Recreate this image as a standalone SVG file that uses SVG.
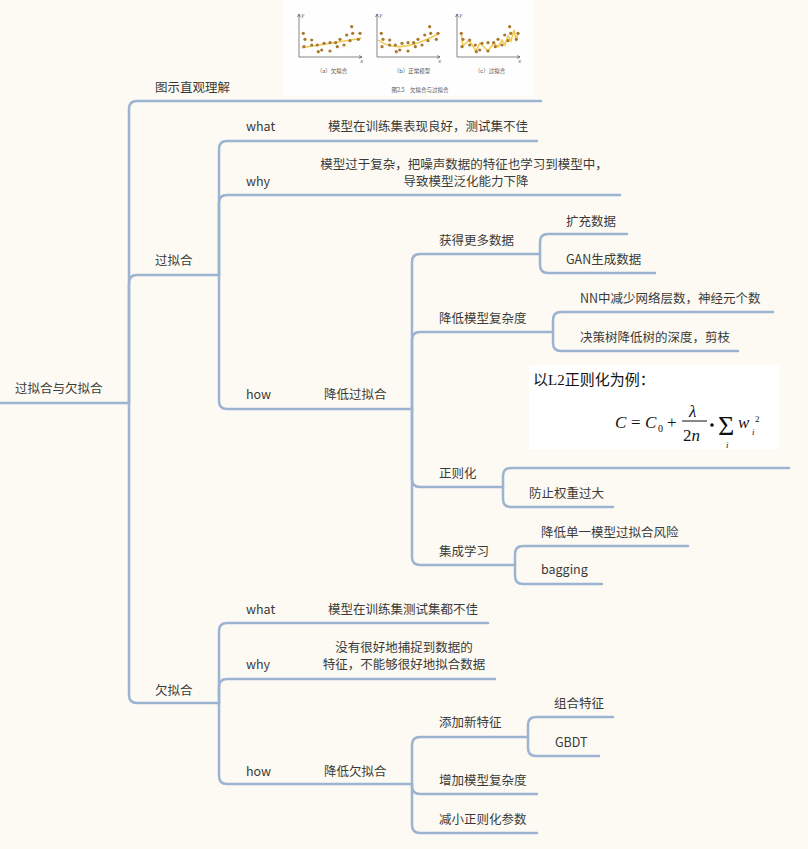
<svg xmlns="http://www.w3.org/2000/svg" xmlns:xlink="http://www.w3.org/1999/xlink" width="808" height="849" viewBox="0 0 808 849">
<style>
  .t{font-family:"Noto Sans CJK SC","Noto Sans",sans-serif;font-size:12.5px;fill:#3a3a3a}
  .c{fill:none;stroke:#9cb3d1;stroke-width:2.5;stroke-linecap:round}
  .ax{fill:none;stroke:#555;stroke-width:0.7}
  .sm{font-family:"Noto Sans CJK SC",sans-serif;font-size:5.5px;fill:#555}
  .dot{fill:#a8782e}
  .fit{fill:none;stroke:#f0cb52;stroke-width:1.6}
  .m{font-family:"Liberation Serif",serif;font-style:italic;fill:#111}
  .mn{font-family:"Liberation Serif",serif;fill:#111}
</style>
<defs>
  <g id="dots">
    <circle class="dot" cx="303.3" cy="33.3" r="1.6"/><circle class="dot" cx="305" cy="39.3" r="1.6"/>
    <circle class="dot" cx="304" cy="46.7" r="1.6"/><circle class="dot" cx="311.7" cy="40" r="1.6"/>
    <circle class="dot" cx="311.7" cy="45" r="1.6"/><circle class="dot" cx="317.3" cy="45" r="1.6"/>
    <circle class="dot" cx="318.3" cy="51.7" r="1.6"/><circle class="dot" cx="321.7" cy="50" r="1.6"/>
    <circle class="dot" cx="324" cy="43.3" r="1.6"/><circle class="dot" cx="330" cy="42.7" r="1.6"/>
    <circle class="dot" cx="330" cy="51" r="1.6"/><circle class="dot" cx="335.7" cy="42.7" r="1.6"/>
    <circle class="dot" cx="337.3" cy="46.7" r="1.6"/><circle class="dot" cx="340" cy="39.3" r="1.6"/>
    <circle class="dot" cx="344" cy="45" r="1.6"/><circle class="dot" cx="346.7" cy="35" r="1.6"/>
    <circle class="dot" cx="350" cy="40.7" r="1.6"/><circle class="dot" cx="351.7" cy="26.7" r="1.6"/>
    <circle class="dot" cx="352.7" cy="33.3" r="1.6"/><circle class="dot" cx="358.3" cy="39.3" r="1.6"/>
    <circle class="dot" cx="360" cy="33.3" r="1.6"/>
  </g>
  <g id="axes">
    <path class="ax" d="M299,14 V57 H362"/>
    <path class="ax" d="M297.5,17 L299,14 L300.5,17 M359,55.5 L362,57 L359,58.5"/>
    <text class="sm" x="301" y="17" font-style="italic">y</text>
    <text class="sm" x="360" y="63" font-style="italic">x</text>
  </g>
</defs>
<rect width="808" height="849" fill="#fdfaf3"/>

<!-- top illustration -->
<g id="illustration">
  <rect x="283" y="0" width="251" height="96" fill="#fefefe"/>
  <use xlink:href="#axes"/>
  <use xlink:href="#axes" transform="translate(78,0)"/>
  <use xlink:href="#axes" transform="translate(158,0)"/>
  <path class="fit" d="M301.7,47.7 L361.7,38.3"/>
  <path class="fit" d="M378.3,40 Q398,56 439.3,33.3"/>
  <path class="fit" d="M461,33 L463,46 L469,40 L476,51 L480,43 L488,51 L494,43 L498,47 L502,40 L505,45 L508,36 L511,41 L514,30 L516,40 L518,34"/>
  <use xlink:href="#dots"/>
  <use xlink:href="#dots" transform="translate(78,0)"/>
  <use xlink:href="#dots" transform="translate(158,0)"/>
  <text class="sm" x="332" y="73" text-anchor="middle">（a）欠拟合</text>
  <text class="sm" x="412" y="73" text-anchor="middle">（b）正常模型</text>
  <text class="sm" x="490" y="73" text-anchor="middle">（c）过拟合</text>
  <text class="sm" x="420" y="92" text-anchor="middle">图2.5　欠拟合与过拟合</text>
</g>

<!-- formula image -->
<g id="formula">
  <rect x="529" y="365" width="250" height="84" fill="#ffffff"/>
  <text x="533" y="385" style="font-family:'Liberation Serif','Noto Sans CJK SC',serif;font-size:15px" fill="#111">以L2正则化为例：</text>
  <text class="m" x="615" y="428" style="font-size:17px">C</text>
  <text class="mn" x="631" y="428" style="font-size:17px">=</text>
  <text class="m" x="645" y="428" style="font-size:17px">C</text>
  <text class="mn" x="658" y="432" style="font-size:10px">0</text>
  <text class="mn" x="667" y="428" style="font-size:17px">+</text>
  <text class="m" x="689" y="417" style="font-size:17px">λ</text>
  <path d="M682,421 H707" stroke="#111" stroke-width="1"/>
  <text class="mn" x="683" y="441" style="font-size:17px">2<tspan font-style="italic">n</tspan></text>
  <circle cx="712" cy="425" r="1.8" fill="#111"/>
  <text class="mn" x="718" y="435" style="font-size:28px">Σ</text>
  <text class="m" x="726" y="448" style="font-size:9px">i</text>
  <text class="m" x="738" y="428" style="font-size:17px">w</text>
  <text class="m" x="752" y="435" style="font-size:9px">i</text>
  <text class="mn" x="755" y="422" style="font-size:9px">2</text>
</g>

<g id="connectors">
  <path class="c" d="M0,403 H129"/>
  <path class="c" d="M129,403 V109 Q129,101 137,101 H541"/>
  <path class="c" d="M129,403 V283 Q129,275 137,275 H219"/>
  <path class="c" d="M129,403 V695 Q129,703 137,703 H219"/>

  <path class="c" d="M219,275 V149 Q219,141 227,141 H537"/>
  <path class="c" d="M219,275 V203 Q219,195 227,195 H620"/>
  <path class="c" d="M219,275 V401 Q219,409 227,409 H412"/>

  <path class="c" d="M412,409 V262 Q412,254 420,254 H540"/>
  <path class="c" d="M412,409 V340 Q412,332 420,332 H553"/>
  <path class="c" d="M412,409 V479 Q412,487 420,487 H503"/>
  <path class="c" d="M412,409 V557 Q412,565 420,565 H515"/>

  <path class="c" d="M540,254 V242 Q540,234 548,234 H627"/>
  <path class="c" d="M540,254 V265 Q540,273 548,273 H655"/>
  <path class="c" d="M553,332 V320 Q553,312 561,312 H773"/>
  <path class="c" d="M553,332 V343 Q553,351 561,351 H738"/>
  <path class="c" d="M503,487 V476 Q503,468 511,468 H789"/>
  <path class="c" d="M503,487 V499 Q503,507 511,507 H613"/>
  <path class="c" d="M515,565 V554 Q515,546 523,546 H688"/>
  <path class="c" d="M515,565 V576 Q515,584 523,584 H602"/>

  <path class="c" d="M219,703 V631 Q219,623 227,623 H488"/>
  <path class="c" d="M219,703 V687 Q219,679 227,679 H495"/>
  <path class="c" d="M219,703 V776 Q219,784 227,784 H412"/>

  <path class="c" d="M412,784 V745 Q412,737 420,737 H528"/>
  <path class="c" d="M412,784 V786 Q412,794 420,794 H537"/>
  <path class="c" d="M412,784 V825 Q412,833 420,833 H537"/>

  <path class="c" d="M528,737 V725 Q528,717 536,717 H613"/>
  <path class="c" d="M528,737 V748 Q528,756 536,756 H599"/>
</g>

<g id="root"><text class="t" x="15" y="393">过拟合与欠拟合</text></g>
<g id="n-tushi"><text class="t" x="155" y="91.5">图示直观理解</text></g>
<g id="n-guo"><text class="t" x="155" y="265">过拟合</text></g>
<g id="n-guo-what"><text class="t" x="246" y="131">what</text></g>
<g id="n-guo-what-d"><text class="t" x="328" y="131">模型在训练集表现良好，测试集不佳</text></g>
<g id="n-guo-why"><text class="t" x="246" y="185.5">why</text></g>
<g id="n-guo-why-d"><text class="t" text-anchor="middle"><tspan x="464" y="169">模型过于复杂，把噪声数据的特征也学习到模型中，</tspan><tspan x="466" y="186">导致模型泛化能力下降</tspan></text></g>
<g id="n-guo-how"><text class="t" x="246" y="399">how</text></g>
<g id="n-jdgnh"><text class="t" x="324" y="399">降低过拟合</text></g>
<g id="n-more"><text class="t" x="439" y="244.5">获得更多数据</text></g>
<g id="n-kuochong"><text class="t" x="566" y="225.5">扩充数据</text></g>
<g id="n-gan"><text class="t" x="566" y="264">GAN生成数据</text></g>
<g id="n-jdmx"><text class="t" x="439" y="322.5">降低模型复杂度</text></g>
<g id="n-nn"><text class="t" x="580" y="303">NN中减少网络层数，神经元个数</text></g>
<g id="n-tree"><text class="t" x="580" y="342">决策树降低树的深度，剪枝</text></g>
<g id="n-zzh"><text class="t" x="439" y="477.5">正则化</text></g>
<g id="n-fz"><text class="t" x="529" y="497.5">防止权重过大</text></g>
<g id="n-jc"><text class="t" x="439" y="555.5">集成学习</text></g>
<g id="n-jddy"><text class="t" x="541" y="536.5">降低单一模型过拟合风险</text></g>
<g id="n-bag"><text class="t" x="541" y="574">bagging</text></g>

<g id="n-qian"><text class="t" x="155" y="695">欠拟合</text></g>
<g id="n-qian-what"><text class="t" x="246" y="614">what</text></g>
<g id="n-qian-what-d"><text class="t" x="328" y="614">模型在训练集测试集都不佳</text></g>
<g id="n-qian-why"><text class="t" x="246" y="668.5">why</text></g>
<g id="n-qian-why-d"><text class="t" text-anchor="middle"><tspan x="404" y="651.5">没有很好地捕捉到数据的</tspan><tspan x="404" y="668.5">特征，不能够很好地拟合数据</tspan></text></g>
<g id="n-qian-how"><text class="t" x="246" y="775.5">how</text></g>
<g id="n-jdqnh"><text class="t" x="324" y="775.5">降低欠拟合</text></g>
<g id="n-add"><text class="t" x="439" y="727">添加新特征</text></g>
<g id="n-zh"><text class="t" x="554" y="707.5">组合特征</text></g>
<g id="n-gbdt"><text class="t" x="555" y="746.5">GBDT</text></g>
<g id="n-zjmx"><text class="t" x="439" y="784.5">增加模型复杂度</text></g>
<g id="n-jxzz"><text class="t" x="439" y="823.5">减小正则化参数</text></g>
</svg>
